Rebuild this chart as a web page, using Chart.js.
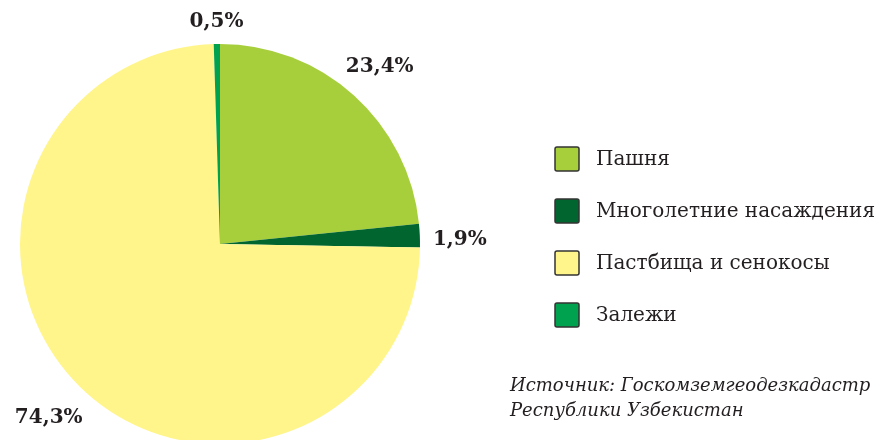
<!DOCTYPE html>
<html>
<head>
<meta charset="utf-8">
<script src="https://cdn.jsdelivr.net/npm/chart.js@4"></script>
<style>
  html, body { margin: 0; padding: 0; background: #fff; overflow: hidden; }
</style>
</head>
<body>
<canvas id="landChart" width="881" height="500"></canvas>
<script>
const categories = ["Пашня", "Многолетние насаждения", "Пастбища и сенокосы", "Залежи"];
const shares = [23.4, 1.9, 74.3, 0.5];
const shareLabels = ["23,4%", "1,9%", "74,3%", "0,5%"];
const colors = ["#a7cf3b", "#00652f", "#fff58b", "#00a24f"];
const sourceLines = ["Источник: Госкомземгеодезкадастр", "Республики Узбекистан"];

const ctx = document.getElementById("landChart");

// percent labels outside the pie + legend on the right + source note
const extrasPlugin = {
  id: "extras",
  afterDraw(chart) {
    const c = chart.ctx;
    const meta = chart.getDatasetMeta(0);
    c.save();
    c.fillStyle = "#231f20";
    c.font = "bold 20px 'DejaVu Serif'";
    c.textAlign = "center";
    c.textBaseline = "middle";
    meta.data.forEach((arc, i) => {
      const mid = (arc.startAngle + arc.endAngle) / 2;
      // angle from 12 o'clock, clockwise
      const theta = mid + Math.PI / 2;
      const up = Math.max(0, Math.cos(theta));
      const side = Math.abs(Math.sin(theta));
      const off = 40 - 18 * Math.pow(up, 8) + 8 * Math.pow(side, 2) * (theta > Math.PI ? 1 : 0);
      const r = arc.outerRadius + off;
      const x = arc.x + r * Math.cos(mid);
      const y = arc.y + r * Math.sin(mid) + 6 * Math.pow(side, 20);
      c.fillText(shareLabels[i], x, y);
    });

    // legend
    const lx = 555, ly = 159, step = 52, box = 24;
    c.font = "20px 'DejaVu Serif'";
    c.textAlign = "left";
    categories.forEach((name, i) => {
      const y = ly + i * step;
      c.fillStyle = colors[i];
      c.strokeStyle = "#333";
      c.lineWidth = 1.5;
      c.beginPath();
      c.roundRect(lx, y - box / 2, box, box, 2);
      c.fill();
      c.stroke();
      c.fillStyle = "#231f20";
      c.fillText(name, 596, y + 1);
    });

    // source
    c.font = "italic 18px 'DejaVu Serif'";
    c.fillStyle = "#231f20";
    sourceLines.forEach((t, i) => c.fillText(t, 510, 386 + i * 25));
    c.restore();
  },
};

const landChart = new Chart(ctx, {
  type: "pie",
  data: {
    labels: categories,
    datasets: [
      {
        data: shares,
        backgroundColor: colors,
        borderWidth: 0,
      },
    ],
  },
  options: {
    responsive: false,
    animation: false,
    layout: {
      padding: { left: 20, right: 461, top: 44, bottom: 56 },
    },
    plugins: {
      legend: { display: false },
      tooltip: { enabled: false },
    },
  },
  plugins: [extrasPlugin],
});
</script>
</body>
</html>
